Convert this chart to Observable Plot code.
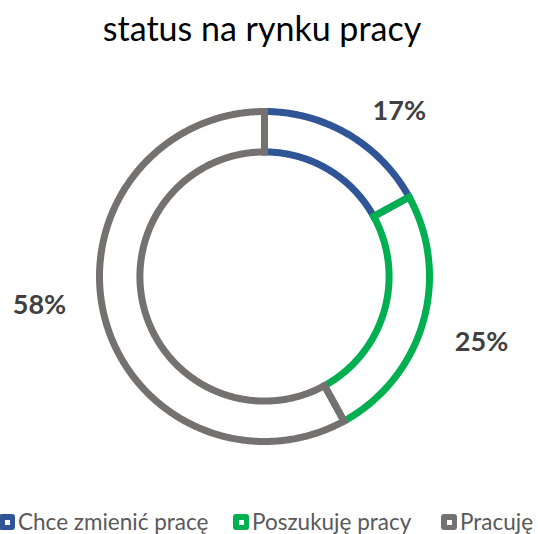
<!DOCTYPE html>
<html>
<head>
<meta charset="utf-8">
<script src="https://cdn.jsdelivr.net/npm/d3@7"></script>
<script src="https://cdn.jsdelivr.net/npm/@observablehq/plot@0.6"></script>
<style>
  html, body { margin: 0; padding: 0; background: #fff; }
  #wrap { position: relative; width: 538px; height: 534px; overflow: hidden; font-family: Lato, "Open Sans", sans-serif; }
  #title { position: absolute; top: 8px; left: 0; width: 524px; text-align: center; font-size: 34px; line-height: 1.2; color: #000; }
  #chart { position: absolute; top: 0; left: 0; }
  #legend { position: absolute; top: 509px; left: 0; width: 538px; height: 26px; font-size: 22.5px; line-height: 26px; color: #595959; }
  .item { position: absolute; top: 0; height: 26px; display: flex; align-items: center; white-space: nowrap; }
  .sw { width: 16px; height: 16px; border-radius: 3px; box-sizing: border-box; margin-right: 3px; position: relative; flex: none; }
  .sw::after { content: ""; position: absolute; left: 5.5px; top: 5.5px; width: 5px; height: 5px; background: #fff; }
</style>
</head>
<body>
<div id="wrap">
  <div id="title">status na rynku pracy</div>
  <div id="chart"></div>
  <div id="legend"></div>
</div>
<script>
// ---- data ----
const categories = ["Chce zmienić pracę", "Poszukuję pracy", "Pracuję"];
const values = [17, 25, 58];
const colors = ["#2F5597", "#00B050", "#767171"];
const labels = ["17%", "25%", "58%"];

// ---- layout ----
const W = 538, H = 534, cx = 264, cy = 276, R = 165;
const inner = 0.755, strokeW = 7;
// label placement tweaks (angle in degrees, radius as fraction of R)
const labelAngleNudge = [8.7, 0.7, 7.1];
const labelRadius = [1.29, 1.375, 1.375];

const total = d3.sum(values);
let acc = 0;
const slices = values.map((v, i) => {
  const a0 = acc / total * 360; acc += v;
  const a1 = acc / total * 360;
  return {cat: categories[i], a0, a1, i};
});

const pts = [];
const rad = d => d * Math.PI / 180;
for (const s of slices) {
  const n = Math.max(2, Math.ceil((s.a1 - s.a0) / 0.5));
  for (let k = 0; k <= n; k++) {
    const a = rad(s.a0 + (s.a1 - s.a0) * k / n);
    pts.push({cat: s.cat, x: Math.sin(a), y: Math.cos(a)});
  }
  for (let k = n; k >= 0; k--) {
    const a = rad(s.a0 + (s.a1 - s.a0) * k / n);
    pts.push({cat: s.cat, x: inner * Math.sin(a), y: inner * Math.cos(a)});
  }
}

const labelData = slices.map((s, i) => {
  const a = rad((s.a0 + s.a1) / 2 + labelAngleNudge[i]);
  return {text: labels[i], x: labelRadius[i] * Math.sin(a), y: labelRadius[i] * Math.cos(a)};
});

const chart = Plot.plot({
  width: W, height: H,
  margin: 0,
  x: {domain: [-cx / R, (W - cx) / R], range: [0, W], axis: null},
  y: {domain: [-(H - cy) / R, cy / R], range: [H, 0], axis: null},
  color: {domain: categories, range: colors},
  style: {background: "transparent", fontFamily: "Lato, 'Open Sans', sans-serif"},
  marks: [
    Plot.line(pts, {x: "x", y: "y", z: "cat", stroke: "cat", curve: "linear-closed",
      strokeWidth: strokeW, strokeLinejoin: "miter", strokeMiterlimit: 10}),
    Plot.text(labelData, {x: "x", y: "y", text: "text", fontSize: 27, fontWeight: "bold", fill: "#404040"})
  ]
});
document.getElementById("chart").appendChild(chart);

// legend
const legendLeft = [-1, 233, 441];
const legend = document.getElementById("legend");
categories.forEach((c, i) => {
  const it = document.createElement("div");
  it.className = "item";
  it.style.left = legendLeft[i] + "px";
  const sw = document.createElement("span");
  sw.className = "sw";
  sw.style.background = colors[i];
  const t = document.createElement("span");
  t.textContent = c;
  it.appendChild(sw); it.appendChild(t);
  legend.appendChild(it);
});
</script>
</body>
</html>
